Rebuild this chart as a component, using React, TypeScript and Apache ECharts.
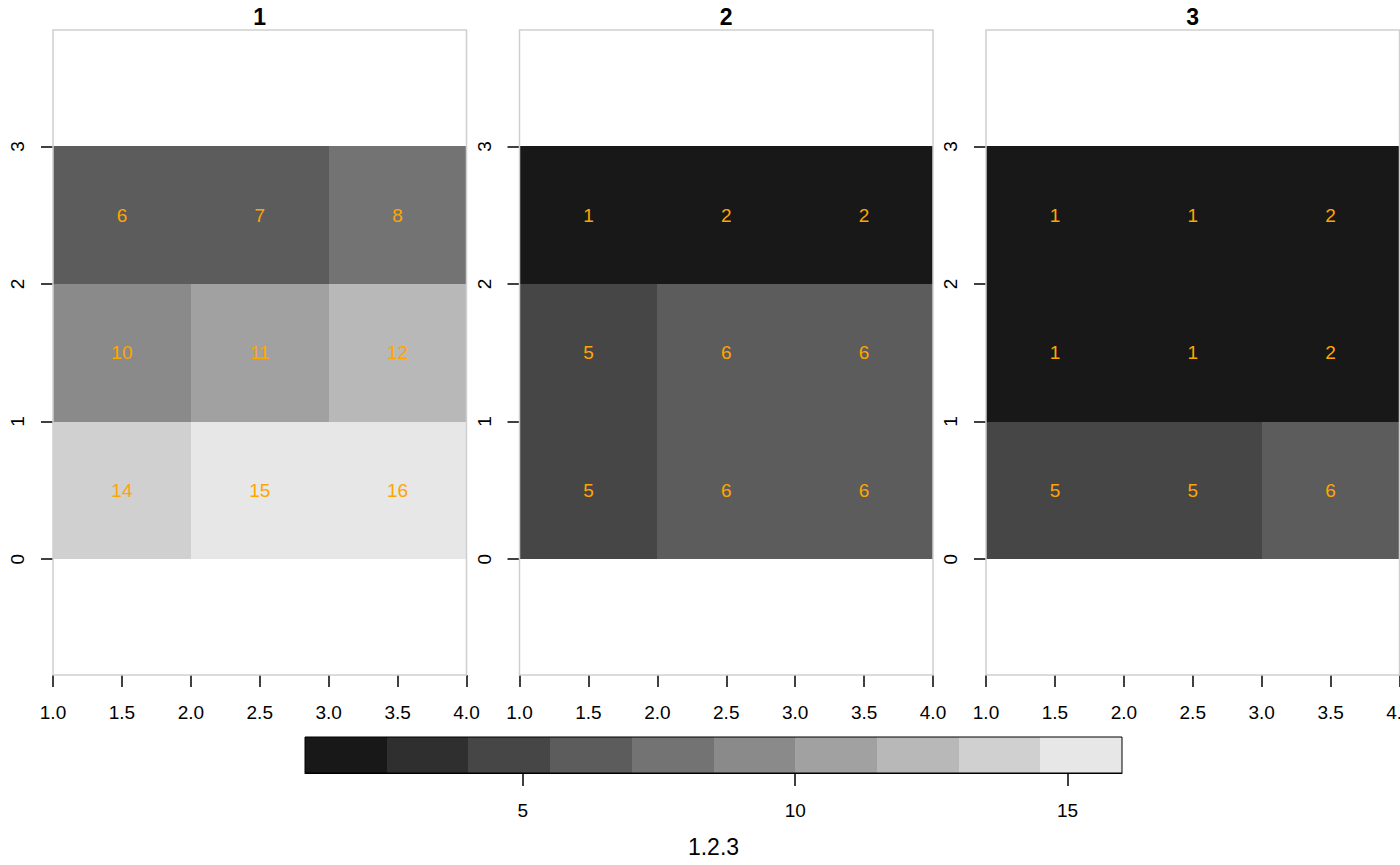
import { useEffect, useRef } from "react";
import * as echarts from "echarts";

// ---- data ----
const panelTitles = ["1", "2", "3"];
const cellXBounds = [[1, 2], [2, 3], [3, 4]];
const cellYBounds = [[2, 3], [1, 2], [0, 1]]; // rows, top to bottom
const panel1Values = [
  [6, 7, 8],
  [10, 11, 12],
  [14, 15, 16],
];
const panel2Values = [
  [1, 2, 2],
  [5, 6, 6],
  [5, 6, 6],
];
const panel3Values = [
  [1, 1, 2],
  [1, 1, 2],
  [5, 5, 6],
];
const panelValues = [panel1Values, panel2Values, panel3Values];
const yTickValues = [0, 1, 2, 3];
const colorBreaks = [1, 2.5, 4, 5.5, 7, 8.5, 10, 11.5, 13, 14.5, 16];
const greyPalette = [
  "#181818", "#2f2f2f", "#464646", "#5c5c5c", "#737373",
  "#8a8a8a", "#a1a1a1", "#b8b8b8", "#d0d0d0", "#e7e7e7",
];
const legendTickValues = [5, 10, 15];
const legendName = "1.2.3";

const FONT = '"Liberation Sans", Arial, Helvetica, sans-serif';

function colorFor(v: number): string {
  for (let i = 0; i < colorBreaks.length - 1; i++) {
    if (v <= colorBreaks[i + 1]) return greyPalette[i];
  }
  return greyPalette[greyPalette.length - 1];
}

export default function App() {
  const ref = useRef<HTMLDivElement>(null);
  useEffect(() => {
    if (!ref.current) return;
    const chart = echarts.init(ref.current, null, { renderer: "svg" });

    const panelLefts = [53, 519.5, 986];
    const panelWidth = 413.5;
    const panelTop = 30;
    const panelHeight = 645;

    const grids: any[] = panelLefts.map((l) => ({
      left: l,
      top: panelTop,
      width: panelWidth,
      height: panelHeight,
      show: true,
      borderColor: "#cfcfcf",
      borderWidth: 1.5,
      backgroundColor: "transparent",
      containLabel: false,
      outerBoundsMode: "none",
      z: 5,
    }));
    grids.push({
      left: 305,
      top: 737,
      width: 817,
      height: 36,
      show: true,
      borderColor: "#000",
      borderWidth: 1,
      backgroundColor: "transparent",
      containLabel: false,
      outerBoundsMode: "none",
      z: 5,
    });

    const xAxes: any[] = panelLefts.map((_, i) => ({
      type: "value",
      gridIndex: i,
      min: 1,
      max: 4,
      interval: 0.5,
      splitLine: { show: false },
      axisLine: { show: false, onZero: false },
      axisTick: { show: true, length: 12, lineStyle: { color: "#000", width: 1.5 } },
      axisLabel: {
        show: true,
        margin: 28,
        fontSize: 19,
        color: "#000",
        fontFamily: FONT,
        formatter: (v: number) => v.toFixed(1),
      },
    }));
    xAxes.push({
      type: "value",
      gridIndex: 3,
      min: colorBreaks[0],
      max: colorBreaks[colorBreaks.length - 1],
      splitLine: { show: false },
      axisLine: { show: true, onZero: false, lineStyle: { color: "#000", width: 1 } },
      axisTick: {
        show: true,
        length: 13,
        customValues: legendTickValues,
        lineStyle: { color: "#000", width: 1.5 },
      },
      axisLabel: {
        show: true,
        margin: 28,
        fontSize: 19,
        color: "#000",
        fontFamily: FONT,
        customValues: legendTickValues,
      },
      name: legendName,
      nameLocation: "middle",
      nameGap: 62,
      nameTextStyle: { fontSize: 23, color: "#000", fontFamily: FONT },
    });

    const yAxes: any[] = panelLefts.map((_, i) => ({
      type: "value",
      gridIndex: i,
      min: -0.842,
      max: 3.846,
      splitLine: { show: false },
      axisLine: { show: false, onZero: false },
      axisTick: {
        show: true,
        length: 12,
        customValues: yTickValues,
        lineStyle: { color: "#000", width: 1.5 },
      },
      axisLabel: {
        show: true,
        rotate: 90,
        margin: 26,
        fontSize: 19,
        color: "#000",
        fontFamily: FONT,
        customValues: yTickValues,
      },
    }));
    yAxes.push({ type: "value", gridIndex: 3, min: 0, max: 1, show: false });

    const series: any[] = panelValues.map((vals, pi) => {
      const data: number[][] = [];
      vals.forEach((row, r) =>
        row.forEach((v, c) => {
          data.push([cellXBounds[c][0], cellXBounds[c][1], cellYBounds[r][0], cellYBounds[r][1], v]);
        })
      );
      return {
        type: "custom",
        xAxisIndex: pi,
        yAxisIndex: pi,
        encode: { x: [0, 1], y: [2, 3] },
        data,
        renderItem: (_p: any, api: any) => {
          const x0 = api.value(0), x1 = api.value(1), y0 = api.value(2), y1 = api.value(3), v = api.value(4);
          const a = api.coord([x0, y1]);
          const b = api.coord([x1, y0]);
          const L = Math.round(a[0]), T = Math.round(a[1]), R = Math.round(b[0]), B = Math.round(b[1]);
          const fill = colorFor(v);
          return {
            type: "group",
            children: [
              {
                type: "rect",
                shape: { x: L, y: T, width: R - L, height: B - T },
                style: { fill },
              },
              {
                type: "text",
                x: (a[0] + b[0]) / 2,
                y: (a[1] + b[1]) / 2,
                z2: 10,
                style: {
                  text: String(v),
                  fill: "#FFA500",
                  fontSize: 19,
                  fontFamily: FONT,
                  align: "center",
                  verticalAlign: "middle",
                },
              },
            ],
          };
        },
      };
    });

    const legendData = greyPalette.map((_, i) => [colorBreaks[i], colorBreaks[i + 1], i]);
    series.push({
      type: "custom",
      xAxisIndex: 3,
      yAxisIndex: 3,
      encode: { x: [0, 1] },
      data: legendData,
      renderItem: (_p: any, api: any) => {
        const a = api.coord([api.value(0), 1]);
        const b = api.coord([api.value(1), 0]);
        const L = Math.round(a[0]), T = Math.round(a[1]), R = Math.round(b[0]), B = Math.round(b[1]);
        const fill = greyPalette[api.value(2)];
        return {
          type: "rect",
          shape: { x: L, y: T, width: R - L, height: B - T },
          style: { fill },
        };
      },
    });

    const titles = panelTitles.map((t, i) => ({
      text: t,
      left: panelLefts[i] + panelWidth / 2,
      top: 5,
      padding: 0,
      textAlign: "center",
      textStyle: { fontSize: 23, fontWeight: "bold", color: "#000", fontFamily: FONT },
    }));

    chart.setOption({
      animation: false,
      backgroundColor: "#fff",
      title: titles,
      grid: grids,
      xAxis: xAxes,
      yAxis: yAxes,
      series,
    });
    return () => chart.dispose();
  }, []);
  return (
    <div
      ref={ref}
      style={{ position: "absolute", left: 0, top: 0, width: 1400, height: 865 }}
    />
  );
}
